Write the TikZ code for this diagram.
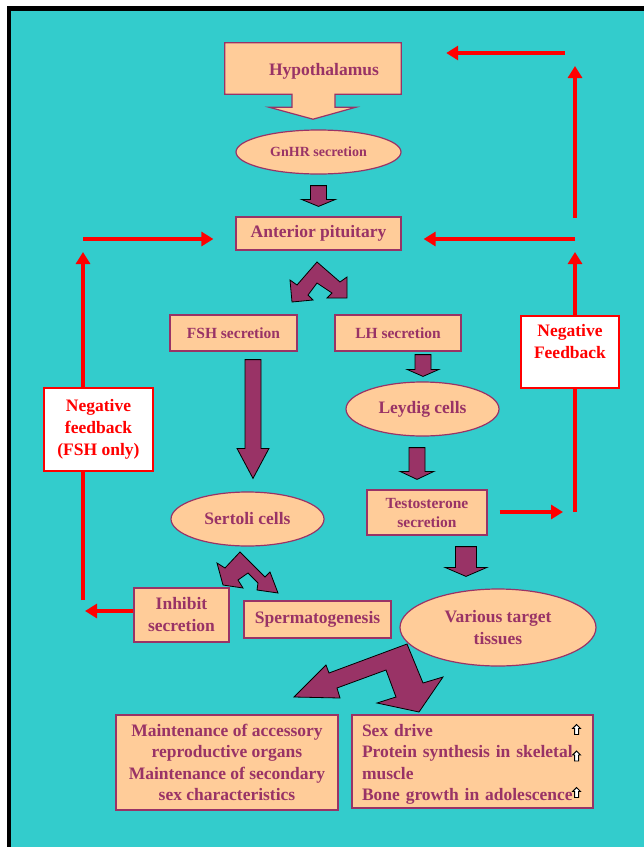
\documentclass[tikz,border=0pt]{standalone}
\usepackage{fontspec}
\setmainfont{Liberation Serif}
\usetikzlibrary{arrows.meta,positioning,shapes.geometric,calc}
\definecolor{bgteal}{RGB}{51,204,204}
\definecolor{boxpeach}{RGB}{255,204,153}
\definecolor{plum}{RGB}{153,51,102}
\definecolor{fbred}{RGB}{255,0,0}
\newcommand{\gonadfont}{\fontsize{17.5}{22}\selectfont\bfseries}
\newcommand{\gonadsmall}{\fontsize{15.5}{19}\selectfont\bfseries}
\newcommand{\gnhrfont}{\fontsize{14}{17}\selectfont\bfseries}
\newcommand{\gonadlist}{\fontsize{17.5}{21.5}\selectfont\bfseries}
% block arrow pointing down: top point, tip point, stem half, head half, head length
\newcommand{\blockdown}[5]{%
  \filldraw[blockfill] let \p1=(#1), \p2=(#2) in
    ({\x1-#3},\y1) -- ({\x1+#3},\y1) -- ({\x1+#3},{\y2+#5}) -- ({\x1+#4},{\y2+#5})
    -- (\x1,\y2) -- ({\x1-#4},{\y2+#5}) -- ({\x1-#3},{\y2+#5}) -- cycle;}
\tikzset{
  cellbox/.style={draw=plum, line width=1.2pt, fill=boxpeach, text=plum, font=\gonadfont, align=center, inner sep=0pt},
  cellell/.style={cellbox, ellipse},
  fbbox/.style={draw=fbred, line width=1.5pt, fill=white, text=fbred, font=\gonadfont, align=center, inner sep=0pt},
  fb/.style={draw=fbred, line width=4pt, -{Triangle[length=12pt,width=14pt]}},
  blockfill/.style={fill=plum, draw=black, line width=0.8pt},
  upmark/.style={fill=white, draw=black, line width=0.9pt}
}
\begin{document}
\begin{tikzpicture}[x=1pt, y=-1pt]
  \useasboundingbox (0,0) rectangle (644,847);
  % Frame and background
  \fill[white] (0,0) rectangle (644,847);
  \fill[black] (7,6) rectangle (644,847);
  \fill[bgteal] (11,11) rectangle (644,847);

  % Hypothalamus with its callout arrow
  \node[minimum width=176pt, minimum height=51pt, inner sep=0pt] (hypo) at (313,68.5) {};
  \filldraw[draw=plum, line width=1.2pt, fill=boxpeach] (hypo.north west) -- (hypo.north east) -- (hypo.south east)
    -- ($(hypo.south)+(22,0)$) -- ($(hypo.south)+(22,13)$) -- ($(hypo.south)+(43,13)$) -- ($(hypo.south)+(0,25)$)
    -- ($(hypo.south)+(-44,13)$) -- ($(hypo.south)+(-21,13)$) -- ($(hypo.south)+(-21,0)$) -- (hypo.south west) -- cycle;
  \node[text=plum, font=\gonadfont, inner sep=0pt] (hypotext) at ($(hypo.center)+(11,2.5)$) {Hypothalamus};

  % Pituitary level
  \node[cellell, minimum width=165pt, minimum height=44pt, font=\gnhrfont] (gnhr) at (318.5,152) {GnHR secretion};
  \node[cellbox, minimum width=165pt, minimum height=33pt] (ap) at (318.5,233.5) {Anterior pituitary};
  \node[cellbox, minimum width=127pt, minimum height=36pt, font=\gonadsmall] (fsh) at (233.5,333) {FSH secretion};
  \node[cellbox, minimum width=126pt, minimum height=36pt, font=\gonadsmall] (lh) at (398,333) {LH secretion};

  % Testis level
  \node[cellell, minimum width=153pt, minimum height=54pt] (leydig) at (422.5,409) {Leydig cells};
  \node[cellbox, minimum width=120pt, minimum height=45pt, font=\gonadsmall] (test) at (427,512.5) {Testosterone\\secretion};
  \node[cellell, minimum width=153pt, minimum height=54pt] (sertoli) at (247.5,519) {Sertoli cells};
  \node[cellbox, minimum width=95pt, minimum height=54pt] (inhibit) at (181.5,615) {Inhibit\\secretion};
  \node[cellbox, minimum width=147pt, minimum height=37pt] (sperm) at (317.5,619.5) {Spermatogenesis};
  \node[cellell, minimum width=196pt, minimum height=77pt] (various) at (498,627.5) {Various target\\tissues};

  % Effects
  \node[cellbox, minimum width=222pt, minimum height=95pt, font=\gonadlist] (maint) at (227,762.5)
    {Maintenance of accessory\\reproductive organs\\Maintenance of secondary\\sex characteristics};
  \node[cellbox, minimum width=241pt, minimum height=93pt, font=\gonadlist, text width=221pt, align=left] (effects) at (472.5,761.5)
    {\rule{0pt}{18pt}Sex drive\\Protein synthesis in skeletal\\muscle\\Bone growth in adolescence};
  \foreach \dy in {-32,-5.5,31} {
    \filldraw[upmark] ($(effects.east)+(-17,\dy)+(0,-5)$) -- ++(4,4) -- ++(-2,0) -- ++(0,6) -- ++(-4,0) -- ++(0,-6) -- ++(-2,0) -- cycle;
  }

  % Block arrows
  \blockdown{$(gnhr.south)+(0,11)$}{$(ap.north)+(0,-10)$}{8pt}{17pt}{7pt}
  \blockdown{$(fsh.south)+(19.5,8)$}{$(sertoli.north)+(5.5,-13)$}{8pt}{16pt}{30pt}
  \blockdown{$(lh.south)+(25,3)$}{$(leydig.north)+(0.5,-5)$}{8pt}{16pt}{7pt}
  \blockdown{$(leydig.south)+(-5.5,11)$}{$(test.north)+(-10,-10)$}{8pt}{17pt}{8pt}
  \blockdown{$(test.south)+(39,11)$}{$(various.north)+(-32,-12)$}{10.5pt}{21pt}{9pt}

  % Branching arrows
  \filldraw[blockfill] (317,262) -- (297,285) -- (290,280) -- (292,302) -- (313,300) -- (308,295) -- (317,283)
    -- (332,293) -- (327,298) -- (347,298) -- (347,277) -- (340,282) -- cycle;
  \filldraw[blockfill] (240,552) -- (225,568) -- (217,563) -- (223,585) -- (243,588) -- (238,580) -- (248,573)
    -- (258,583) -- (257,590) -- (278,593) -- (270,572) -- (265,577) -- cycle;
  \filldraw[blockfill] (407,644) -- (329,673) -- (326,665) -- (294,697) -- (340,698) -- (337,688) -- (386,670)
    -- (396,697) -- (377,703) -- (419,712) -- (443,677) -- (423,683) -- cycle;

  % Feedback loops
  \coordinate (lbot) at (83,611);
  \coordinate (lmid) at (83,239);
  \coordinate (rbot) at (575,512);
  \coordinate (rmid) at (575,239);
  \coordinate (rtop) at (575,53);
  \draw[fb, shorten >=2pt] (inhibit.west |- lbot) -- (lbot);
  \draw[fb, shorten <=11pt, shorten >=13pt] (lbot) -- (lmid);
  \draw[fb, shorten >=22pt] (lmid) -- (lmid -| ap.west);
  \draw[fb, shorten <=12pt, shorten >=12pt] (test.east |- rbot) -- (rbot);
  \draw[fb, shorten >=13pt] (rbot) -- (rmid);
  \draw[fb, shorten >=22pt] (rmid) -- (rmid -| ap.east);
  \draw[fb, shorten <=21pt, shorten >=13pt] (rmid) -- (rtop);
  \draw[fb, shorten <=10pt, shorten >=45pt] (rtop) -- (hypo.east |- rtop);

  \node[fbbox, minimum width=109pt, minimum height=83pt] (nfl) at (98.5,429.5) {Negative\\feedback\\(FSH only)};
  \node[fbbox, minimum width=98pt, minimum height=72pt] (nfr) at (570,352) {};
  \node[text=fbred, font=\gonadfont, align=center, inner sep=0pt, below=9pt of nfr.north] (nfrtext) {Negative\\Feedback};
\end{tikzpicture}
\end{document}
